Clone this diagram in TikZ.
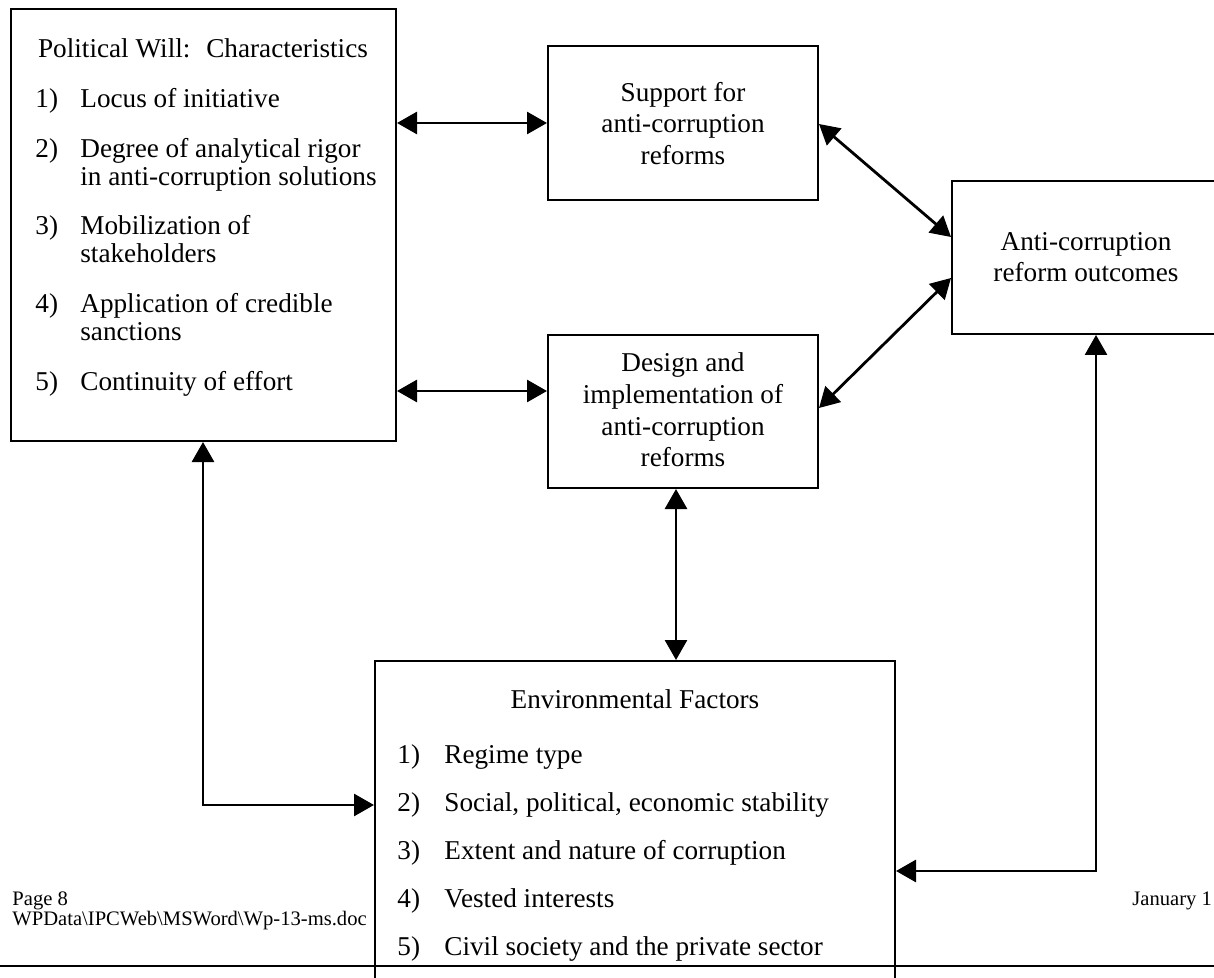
\documentclass[tikz,border=0pt]{standalone}
\usepackage{fontspec}
\setmainfont{Liberation Serif}
\usetikzlibrary{arrows.meta,fit,calc}
\tikzset{
  box/.style={draw, line width=1pt, inner sep=0pt},
  arr/.style={line width=1.4pt, {Triangle[length=10pt,width=11pt]}-{Triangle[length=10pt,width=11pt]}},
  txt/.style={font=\fontsize{13.6}{15.8}\selectfont, inner sep=0pt},
  item/.style={txt, anchor=base west},
  foot/.style={font=\fontsize{10.3}{12}\selectfont, inner sep=0pt, anchor=base west},
}
\begin{document}
\begin{tikzpicture}[x=0.5pt,y=-0.5pt]
\useasboundingbox (0,0) rectangle (1214,978);
\clip (0,0) rectangle (1214,978);
% boxes
\node[box, fit={(11,9)(396,441)}] (pw) {};
\node[box, fit={(548,46)(818,200)}] (sup) {};
\node[box, fit={(548,335)(818,488)}] (des) {};
\node[box, fit={(952,181)(1240,334)}] (out) {};
\node[box, fit={(375,661)(895,1010)}] (env) {};
% page rule
\coordinate (rl) at (0,966);
\coordinate (rr) at (1214,966);
\draw[line width=1.2pt] (rl) -- (rr);
% political will text
\node[txt, anchor=base] (pwt) at (203,58) {Political Will:~ Characteristics};
\node[item] (pn1) at (35,108) {1)};
\node[item] (pi1) at (80,108) {Locus of initiative};
\node[item] (pn2) at (35,157.5) {2)};
\node[item] (pi2) at (80,157.5) {Degree of analytical rigor};
\node[item] (pi2b) at (80,185.5) {in anti-corruption solutions};
\node[item] (pn3) at (35,235) {3)};
\node[item] (pi3) at (80,235) {Mobilization of};
\node[item] (pi3b) at (80,263) {stakeholders};
\node[item] (pn4) at (35,312.5) {4)};
\node[item] (pi4) at (80,312.5) {Application of credible};
\node[item] (pi4b) at (80,340.5) {sanctions};
\node[item] (pn5) at (35,390) {5)};
\node[item] (pi5) at (80,390) {Continuity of effort};
% middle boxes text
\node[txt, align=center] (supt) at (683,123.5) {Support for\\anti-corruption\\reforms};
\node[txt, align=center] (dest) at (683,410) {Design and\\implementation of\\anti-corruption\\reforms};
\node[txt, align=center] (outt) at (1086,257) {Anti-corruption\\reform outcomes};
% environmental factors
\node[txt, anchor=base] (envt) at (635,708) {Environmental Factors};
\node[item] (en1) at (397,763) {1)};
\node[item] (ei1) at (444,763) {Regime type};
\node[item] (en2) at (397,811) {2)};
\node[item] (ei2) at (444,811) {Social, political, economic stability};
\node[item] (en3) at (397,859) {3)};
\node[item] (ei3) at (444,859) {Extent and nature of corruption};
\node[item] (en4) at (397,907) {4)};
\node[item] (ei4) at (444,907) {Vested interests};
\node[item] (en5) at (397,955) {5)};
\node[item] (ei5) at (444,955) {Civil society and the private sector};
% footer
\node[foot] (pg) at (12,905) {Page 8};
\node[foot] (fn) at (12,925) {WPData\textbackslash IPCWeb\textbackslash MSWord\textbackslash Wp-13-ms.doc};
\node[foot] (dt) at (1132,905) {January 1};
% connectors
\draw[arr] (pw.east |- {(0,123)}) -- (sup.west |- {(0,123)});
\draw[arr] (pw.east |- {(0,391)}) -- (des.west |- {(0,391)});
\draw[arr] (sup.east |- {(0,124)}) -- (out.west |- {(0,237)});
\draw[arr] (des.east |- {(0,408)}) -- (out.west |- {(0,278)});
\draw[arr] (des.south -| {(676,0)}) -- (env.north -| {(676,0)});
\draw[arr] (pw.south -| {(203,0)}) |- (env.west |- {(0,805)});
\draw[arr] (out.south -| {(1096,0)}) |- (env.east |- {(0,871)});
\end{tikzpicture}
\end{document}
